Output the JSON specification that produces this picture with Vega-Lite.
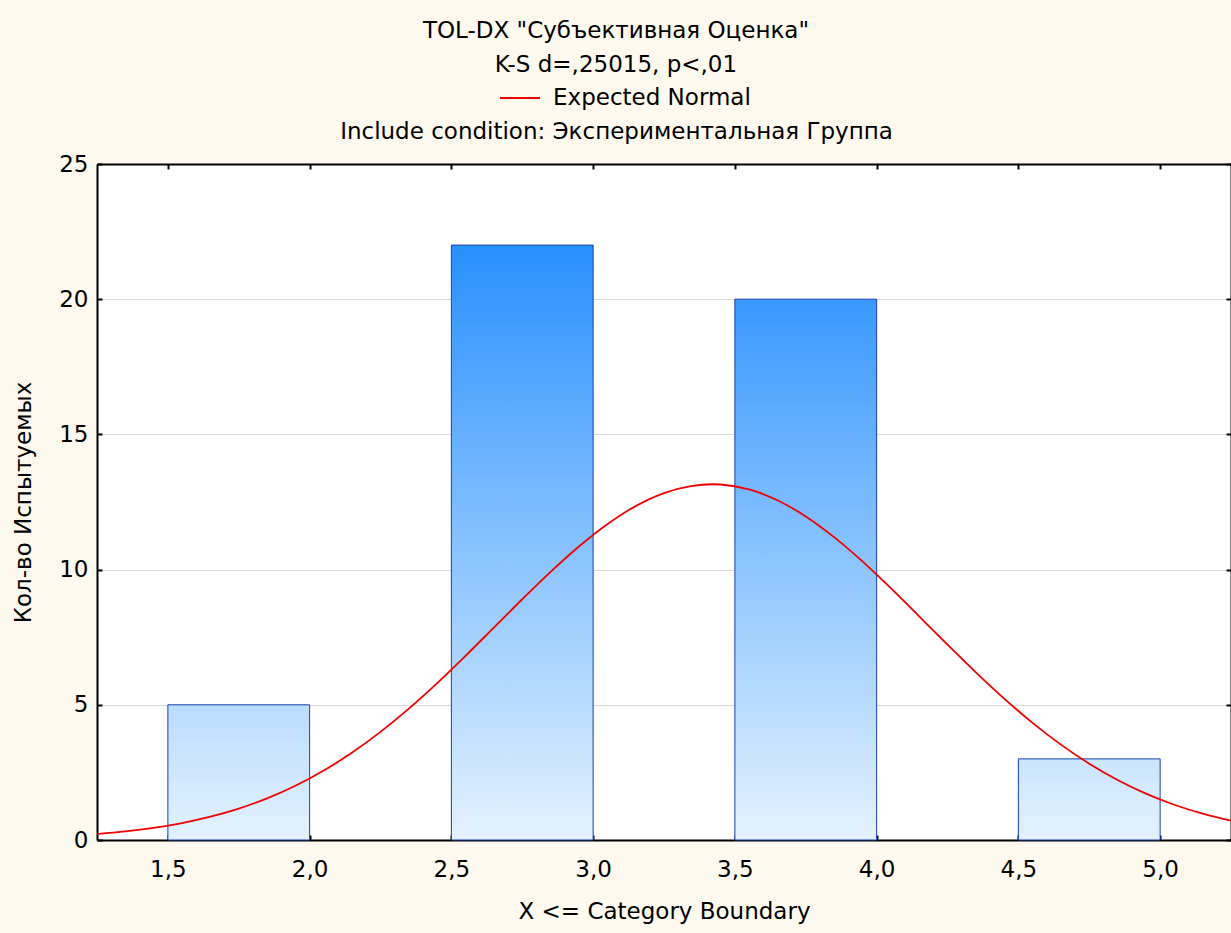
{
  "$schema": "https://vega.github.io/schema/vega-lite/v6.json",
  "autosize": "none",
  "width": 1134,
  "height": 676,
  "padding": {"left": 97, "top": 164, "right": 0, "bottom": 93},
  "background": "#FEF9EE",
  "title": {
    "text": ["TOL-DX \"Субъективная Оценка\"", "K-S d=,25015, p<,01"],
    "font": "DejaVu Sans",
    "fontSize": 23,
    "fontWeight": "normal",
    "color": "#000000",
    "lineHeight": 34,
    "anchor": "middle",
    "frame": "group",
    "dx": -48,
    "offset": 0
  },
  "datasets": {
    "bins": [
      {"lo": 1.5, "hi": 2.0, "count": 5},
      {"lo": 2.5, "hi": 3.0, "count": 22},
      {"lo": 3.5, "hi": 4.0, "count": 20},
      {"lo": 4.5, "hi": 5.0, "count": 3}
    ],
    "curve": [
      {"x": 1.25, "y": 0.219}, {"x": 1.35, "y": 0.316}, {"x": 1.45, "y": 0.449},
      {"x": 1.55, "y": 0.627}, {"x": 1.65, "y": 0.862}, {"x": 1.75, "y": 1.162},
      {"x": 1.85, "y": 1.540}, {"x": 1.95, "y": 2.007}, {"x": 2.05, "y": 2.570},
      {"x": 2.15, "y": 3.233}, {"x": 2.25, "y": 3.998}, {"x": 2.35, "y": 4.858},
      {"x": 2.45, "y": 5.802}, {"x": 2.55, "y": 6.810}, {"x": 2.65, "y": 7.855},
      {"x": 2.75, "y": 8.903}, {"x": 2.85, "y": 9.917}, {"x": 2.95, "y": 10.856},
      {"x": 3.05, "y": 11.680}, {"x": 3.15, "y": 12.348}, {"x": 3.25, "y": 12.831},
      {"x": 3.35, "y": 13.100}, {"x": 3.42, "y": 13.157}, {"x": 3.45, "y": 13.147},
      {"x": 3.55, "y": 12.965}, {"x": 3.65, "y": 12.565}, {"x": 3.75, "y": 11.968},
      {"x": 3.85, "y": 11.202}, {"x": 3.95, "y": 10.305}, {"x": 4.05, "y": 9.314},
      {"x": 4.15, "y": 8.274}, {"x": 4.25, "y": 7.225}, {"x": 4.35, "y": 6.198},
      {"x": 4.45, "y": 5.226}, {"x": 4.55, "y": 4.331}, {"x": 4.65, "y": 3.527},
      {"x": 4.75, "y": 2.823}, {"x": 4.85, "y": 2.221}, {"x": 4.95, "y": 1.716},
      {"x": 5.05, "y": 1.304}, {"x": 5.15, "y": 0.973}, {"x": 5.25, "y": 0.713}
    ]
  },
  "config": {
    "view": {"fill": "#FFFFFF", "stroke": null},
    "axis": {
      "labelFont": "DejaVu Sans",
      "labelFontSize": 23,
      "labelColor": "#000000",
      "labelFlush": false,
      "labelOverlap": false,
      "titleFont": "DejaVu Sans",
      "titleFontSize": 23,
      "titleFontWeight": "normal",
      "titleColor": "#000000",
      "domainColor": "#000000",
      "domainWidth": 2,
      "tickColor": "#000000",
      "tickWidth": 2,
      "tickSize": -5
    },
    "legend": {
      "labelFont": "DejaVu Sans",
      "labelFontSize": 23,
      "labelColor": "#000000",
      "labelLimit": 0,
      "padding": 0
    }
  },
  "resolve": {"axis": {"x": "independent", "y": "independent"}},
  "layer": [
    {
      "data": {"name": "bins"},
      "transform": [{"filter": "datum.lo == 1.5"}],
      "mark": {
        "type": "bar",
        "stroke": "#1440B0",
        "strokeWidth": 1,
        "fill": {"gradient": "linear", "x1": 0, "y1": 1, "x2": 0, "y2": 0,
          "stops": [{"offset": 0, "color": "#E4F2FE"}, {"offset": 1, "color": "#B9DCFE"}]}
      },
      "encoding": {
        "x": {
          "field": "lo", "type": "quantitative",
          "scale": {"domain": [1.25, 5.25], "nice": false, "zero": false},
          "axis": {
            "orient": "bottom",
            "values": [1.5, 2, 2.5, 3, 3.5, 4, 4.5, 5],
            "labelExpr": "replace(format(datum.value, '.1f'), '.', ',')",
            "labelBaseline": "top",
            "grid": false,
            "labelPadding": 23,
            "title": "X <= Category Boundary",
            "titlePadding": 19
          }
        },
        "x2": {"field": "hi"},
        "y": {
          "field": "count", "type": "quantitative",
          "scale": {"domain": [0, 25], "nice": false},
          "axis": {
            "orient": "left",
            "values": [0, 5, 10, 15, 20, 25],
            "format": "d",
            "grid": true,
            "gridColor": "#D9D9D9",
            "gridWidth": 1,
            "labelPadding": 14,
            "title": "Кол-во Испытуемых",
            "titlePadding": 23
          }
        },
        "y2": {"datum": 0}
      }
    },
    {
      "data": {"name": "bins"},
      "transform": [{"filter": "datum.lo == 2.5"}],
      "mark": {
        "type": "bar",
        "stroke": "#1440B0",
        "strokeWidth": 1,
        "fill": {"gradient": "linear", "x1": 0, "y1": 1, "x2": 0, "y2": 0,
          "stops": [{"offset": 0, "color": "#E4F2FE"}, {"offset": 1, "color": "#2890FF"}]}
      },
      "encoding": {
        "x": {
          "field": "lo", "type": "quantitative",
          "axis": {
            "orient": "top",
            "values": [1.5, 2, 2.5, 3, 3.5, 4, 4.5, 5],
            "labels": false,
            "grid": false,
            "title": "Include condition: Экспериментальная Группа",
            "titleX": 519,
            "titleAlign": "center",
            "titlePadding": 20
          }
        },
        "x2": {"field": "hi"},
        "y": {
          "field": "count", "type": "quantitative",
          "axis": {
            "orient": "right",
            "values": [0, 5, 10, 15, 20, 25],
            "labels": false,
            "grid": false,
            "title": null
          }
        },
        "y2": {"datum": 0}
      }
    },
    {
      "data": {"name": "bins"},
      "transform": [{"filter": "datum.lo == 3.5"}],
      "mark": {
        "type": "bar",
        "stroke": "#1440B0",
        "strokeWidth": 1,
        "fill": {"gradient": "linear", "x1": 0, "y1": 1, "x2": 0, "y2": 0,
          "stops": [{"offset": 0, "color": "#E4F2FE"}, {"offset": 1, "color": "#3999FF"}]}
      },
      "encoding": {
        "x": {"field": "lo", "type": "quantitative", "axis": null},
        "x2": {"field": "hi"},
        "y": {"field": "count", "type": "quantitative", "axis": null},
        "y2": {"datum": 0}
      }
    },
    {
      "data": {"name": "bins"},
      "transform": [{"filter": "datum.lo == 4.5"}],
      "mark": {
        "type": "bar",
        "stroke": "#1440B0",
        "strokeWidth": 1,
        "fill": {"gradient": "linear", "x1": 0, "y1": 1, "x2": 0, "y2": 0,
          "stops": [{"offset": 0, "color": "#E4F2FE"}, {"offset": 1, "color": "#CAE5FE"}]}
      },
      "encoding": {
        "x": {"field": "lo", "type": "quantitative", "axis": null},
        "x2": {"field": "hi"},
        "y": {"field": "count", "type": "quantitative", "axis": null},
        "y2": {"datum": 0}
      }
    },
    {
      "data": {"name": "curve"},
      "mark": {"type": "line", "strokeWidth": 1.8, "interpolate": "monotone", "clip": true},
      "encoding": {
        "x": {"field": "x", "type": "quantitative", "axis": null},
        "y": {"field": "y", "type": "quantitative", "axis": null},
        "color": {
          "datum": "Expected Normal",
          "type": "nominal",
          "scale": {"range": ["#F00000"]},
          "legend": {
            "title": null,
            "orient": "none",
            "legendX": 402,
            "legendY": -87,
            "symbolType": "stroke",
            "symbolSize": 1600,
            "symbolStrokeWidth": 1.8,
            "labelOffset": 12
          }
        }
      }
    }
  ]
}
